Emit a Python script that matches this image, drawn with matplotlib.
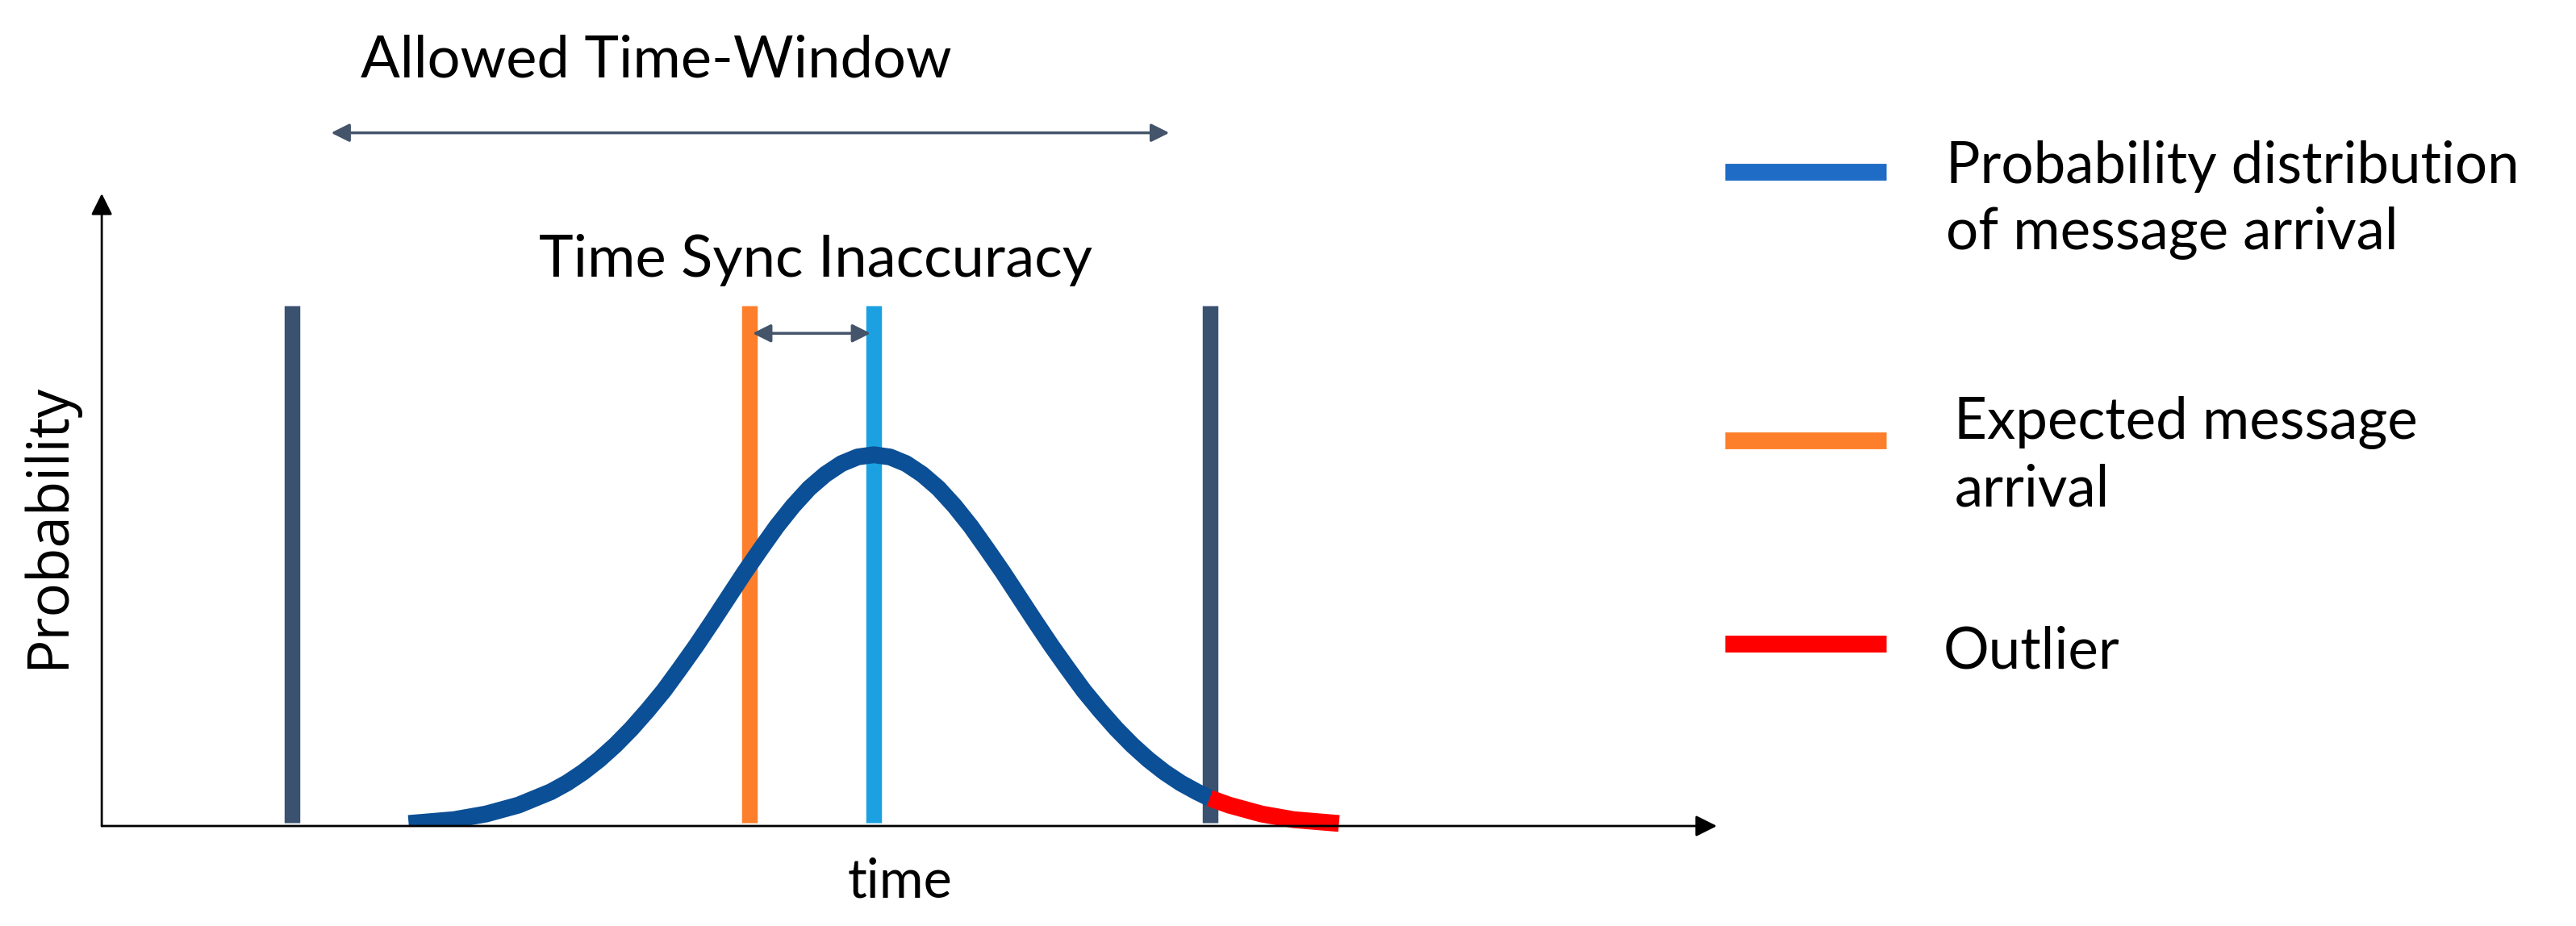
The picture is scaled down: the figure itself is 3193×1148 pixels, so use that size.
import matplotlib
matplotlib.use("Agg")
import matplotlib.pyplot as plt

# values (time axis 0..10, probability axis 0..1)
window_edges = [1.18, 6.86]
expected_arrival = 4.01
actual_arrival = 4.78
bar_top = 0.823

curve_t = [1.90, 2.18, 2.38, 2.58, 2.78, 2.88, 2.98, 3.08, 3.18, 3.28, 3.38, 3.48,
           3.58, 3.68, 3.78, 3.88, 3.98, 4.08, 4.18, 4.28, 4.38, 4.48, 4.58, 4.68,
           4.78, 4.88, 4.98, 5.08, 5.18, 5.28, 5.38, 5.48, 5.58, 5.68, 5.78, 5.88,
           5.98, 6.08, 6.18, 6.28, 6.38, 6.48, 6.58, 6.68, 6.78, 6.86]
curve_p = [0.004, 0.010, 0.019, 0.033, 0.054, 0.068, 0.085, 0.105, 0.128, 0.154,
           0.183, 0.214, 0.249, 0.285, 0.323, 0.362, 0.401, 0.438, 0.474, 0.506,
           0.534, 0.556, 0.573, 0.5835, 0.587, 0.5835, 0.573, 0.556, 0.534, 0.506,
           0.474, 0.438, 0.401, 0.362, 0.323, 0.285, 0.249, 0.214, 0.183, 0.154,
           0.128, 0.105, 0.085, 0.068, 0.054, 0.044]
outlier_t = [6.86, 6.98, 7.18, 7.38, 7.66]
outlier_p = [0.044, 0.033, 0.019, 0.010, 0.004]

legend_labels = ["Probability distribution\nof message arrival",
                 "Expected message\narrival",
                 "Outlier"]
legend_colors = ["#1E6CC6", "#FD7F2C", "#FF0000"]

dark = "#3A5270"
arrow_col = "#44546A"
font = "Lato"

fig = plt.figure(figsize=(31.93, 11.48), dpi=100)
ax = fig.add_axes([0.0395, 0.108, 0.627, 0.683])
ax.set_xlim(0, 10)
ax.set_ylim(0, 1)
ax.axis("off")

# axes with arrow heads
ax.annotate("", xy=(10, 0), xytext=(0, 0),
            arrowprops=dict(arrowstyle="-|>", color="black", lw=2, mutation_scale=40,
                            shrinkA=0, shrinkB=0))
ax.annotate("", xy=(0, 1), xytext=(0, 0),
            arrowprops=dict(arrowstyle="-|>", color="black", lw=2, mutation_scale=40,
                            shrinkA=0, shrinkB=0))

# vertical markers
ax.vlines(window_edges, 0.005, bar_top, color=dark, lw=14)
ax.vlines(expected_arrival, 0.005, bar_top, color="#FD7F2C", lw=14)
ax.vlines(actual_arrival, 0.005, bar_top, color="#1BA1E2", lw=14)

# distribution curve and outlier tail
ax.plot(curve_t, curve_p, color="#0B4F96", lw=15, solid_capstyle="butt", solid_joinstyle="round")
ax.plot(outlier_t, outlier_p, color="#FF0000", lw=15, solid_capstyle="butt",
        solid_joinstyle="round", clip_on=False)

# dimension arrows
ax.annotate("", xy=(6.61, 1.096), xytext=(1.42, 1.096), annotation_clip=False,
            arrowprops=dict(arrowstyle="<|-|>", color=arrow_col, lw=2.5, mutation_scale=34,
                            shrinkA=0, shrinkB=0))
ax.annotate("", xy=(4.76, 0.779), xytext=(4.03, 0.779), annotation_clip=False,
            arrowprops=dict(arrowstyle="<|-|>", color=arrow_col, lw=2.5, mutation_scale=34,
                            shrinkA=0, shrinkB=0))

ax.text(3.43, 1.21, "Allowed Time-Window", ha="center", va="center", fontsize=52,
        family=font, clip_on=False)
ax.text(4.42, 0.895, "Time Sync Inaccuracy", ha="center", va="center", fontsize=52,
        family=font, clip_on=False)
ax.text(4.94, -0.088, "time", ha="center", va="center", fontsize=48, family=font,
        clip_on=False)
ax.text(-0.33, 0.475, "Probability", ha="center", va="center", rotation=90,
        fontsize=51, family="Open Sans", clip_on=False)

# legend drawn by hand
leg_y = [1.034, 0.610, 0.288]
txt_y = [0.99, 0.585, 0.275]
txt_x = [11.42, 11.47, 11.40]
for lab, col, ly, ty, tx in zip(legend_labels, legend_colors, leg_y, txt_y, txt_x):
    ax.plot([10.05, 11.05], [ly, ly], color=col, lw=15, solid_capstyle="butt", clip_on=False)
    ax.text(tx, ty, lab, ha="left", va="center", fontsize=51, family=font,
            linespacing=1.33, clip_on=False)

fig.savefig("out.png", dpi=100)
